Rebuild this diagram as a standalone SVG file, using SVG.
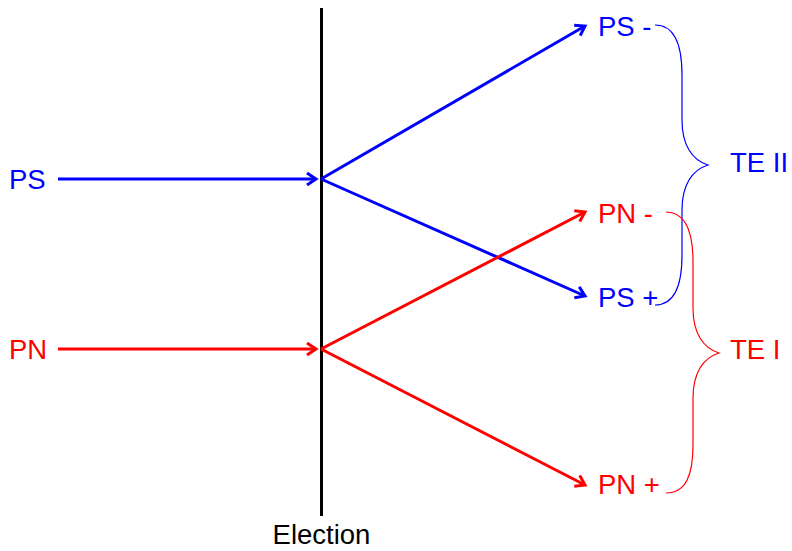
<svg xmlns="http://www.w3.org/2000/svg" width="792" height="551" viewBox="0 0 792 551">
<defs>
<style>
text{font-family:"Liberation Sans",Arial,sans-serif;font-size:27.5px}
.b{fill:#0000ff}.r{fill:#ff0000}.k{fill:#000}
.ab{stroke:#0000ff;stroke-width:3;fill:none}
.ar{stroke:#ff0000;stroke-width:3;fill:none}
.bb{stroke:#0000ff;stroke-width:1.2;fill:none}
.br{stroke:#ff0000;stroke-width:1.2;fill:none}
</style>
<marker id="mb" markerUnits="userSpaceOnUse" markerWidth="20" markerHeight="20" viewBox="-12 -10 14 20" refX="0" refY="0" orient="auto">
<path d="M-9,-6 L0,0 L-9,6" fill="none" stroke="#0000ff" stroke-width="3"/>
</marker>
<marker id="mr" markerUnits="userSpaceOnUse" markerWidth="20" markerHeight="20" viewBox="-12 -10 14 20" refX="0" refY="0" orient="auto">
<path d="M-9,-6 L0,0 L-9,6" fill="none" stroke="#ff0000" stroke-width="3"/>
</marker>
</defs>
<rect width="792" height="551" fill="#fff"/>
<g id="election">
<line x1="321.5" y1="8" x2="321.5" y2="516" stroke="#000" stroke-width="3"/>
<text class="k" x="321.5" y="544" text-anchor="middle">Election</text>
</g>
<g id="connectors">
<line class="ab" x1="58" y1="179" x2="316" y2="179" marker-end="url(#mb)"/>
<line class="ar" x1="58" y1="349" x2="316" y2="349" marker-end="url(#mr)"/>
<line class="ab" x1="321" y1="179" x2="585" y2="26" marker-end="url(#mb)"/>
<line class="ab" x1="321" y1="179" x2="585" y2="296" marker-end="url(#mb)"/>
<line class="ar" x1="321" y1="349" x2="585" y2="212" marker-end="url(#mr)"/>
<line class="ar" x1="321" y1="349" x2="585" y2="485" marker-end="url(#mr)"/>
</g>
<g id="PS"><text class="b" x="9" y="189">PS</text></g>
<g id="PN"><text class="r" x="9" y="359">PN</text></g>
<g id="PSminus"><text class="b" x="598" y="36">PS -</text></g>
<g id="PNminus"><text class="r" x="598" y="223">PN -</text></g>
<g id="PSplus"><text class="b" x="598" y="307">PS +</text></g>
<g id="PNplus"><text class="r" x="598" y="494">PN +</text></g>
<g id="TEII">
<path class="bb" d="M655,25 C675,25 682,45 682,75 L682,120 C682,145 692,160 708,165 C692,170 682,185 682,210 L682,255 C682,285 675,305 655,305"/>
<text class="b" x="730" y="172">TE II</text>
</g>
<g id="TEI">
<path class="br" d="M666,212 C686,212 693,232 693,262 L693,308 C693,333 703,348 719,353 C703,358 693,373 693,398 L693,445 C693,475 686,493 666,493"/>
<text class="r" x="730" y="359">TE I</text>
</g>
</svg>
